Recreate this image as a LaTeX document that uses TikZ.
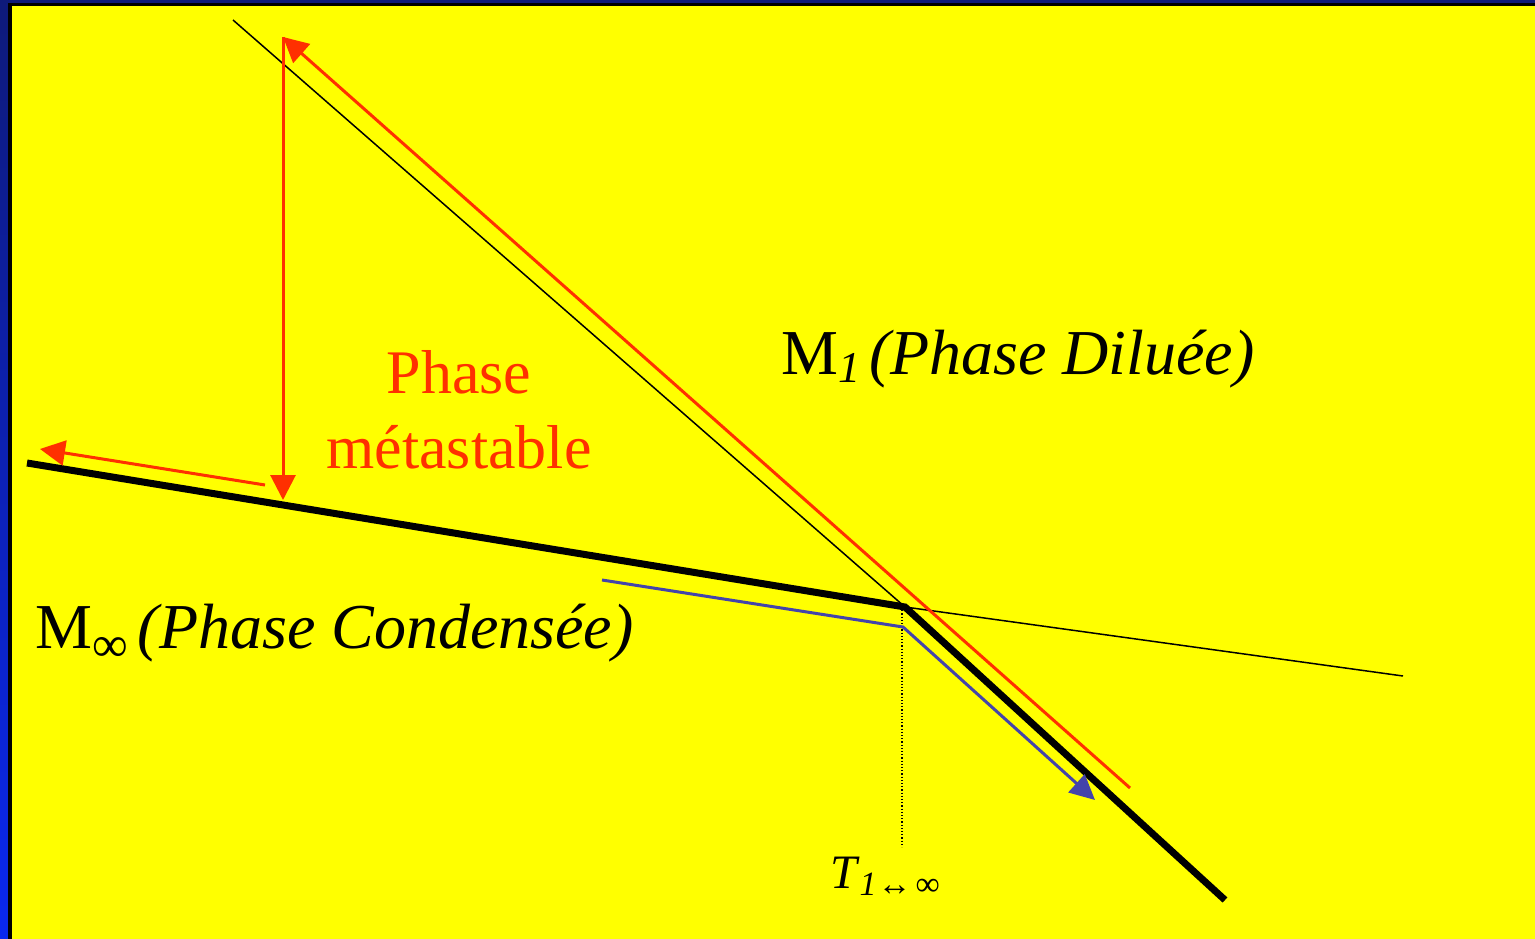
\documentclass[tikz,border=0pt]{standalone}
\usepackage{fontspec}
\setmainfont{Liberation Serif}
\usetikzlibrary{arrows.meta}
\definecolor{bgyellow}{RGB}{255,255,0}
\definecolor{navy}{RGB}{14,26,122}
\definecolor{brightblue}{RGB}{10,40,240}
\definecolor{redline}{RGB}{255,48,0}
\definecolor{blueline}{RGB}{68,68,170}
\tikzset{
  thinline/.style={black,line width=1.5pt},
  thickline/.style={black,line width=7pt,line join=miter},
  redarrow/.style={redline,line width=3pt,-{Triangle[length=25pt,width=25pt]}},
  bluearrow/.style={blueline,line width=3pt,-{Triangle[length=25pt,width=24pt]}},
  bigtext/.style={inner sep=0pt,anchor=base west,font=\fontsize{64}{76}\selectfont},
  redtext/.style={inner sep=0pt,align=center,text=redline,font=\fontsize{62}{75}\selectfont},
}
\begin{document}
\begin{tikzpicture}[x=1pt,y=-1pt]
\useasboundingbox (0,0) rectangle (1535,939);
\fill[bgyellow] (0,0) rectangle (1535,939);
\shade[top color=navy,bottom color=brightblue] (0,0) rectangle (8,939);
\fill[black] (8,4) rectangle (11.5,939);
\fill[navy] (0,0) rectangle (1535,3.5);
\fill[black] (8,3.5) rectangle (1535,6.5);

% coordinates
\coordinate (A) at (233,20);
\coordinate (K) at (905,607);
\coordinate (L) at (27,463);
\coordinate (E) at (1225,900);
\coordinate (R) at (1403,676);
\coordinate (R1) at (1130,788);
\coordinate (Rt) at (283,37);
\coordinate (Rb) at (283,500);
\coordinate (Ls) at (265,485);
\coordinate (Lt) at (40,449);
\coordinate (B0) at (602,580);
\coordinate (BK) at (903,627);
\coordinate (BT) at (1095,800);
\coordinate (D0) at (902,607);
\coordinate (D1) at (902,847);

% thin black lines
\draw[thinline] (A) -- (K);
\draw[thinline] (K) -- (R);
% thick black line
\draw[thickline] (L) -- (K) -- (E);
% dotted
\draw[black,line width=1.2pt,dotted] (D0) -- (D1);
% red arrows
\draw[redarrow] (R1) -- (Rt);
\draw[redarrow] (Rt) -- (Rb);
\draw[redarrow] (Ls) -- (Lt);
% blue arrow
\draw[bluearrow,line join=miter] (B0) -- (BK) -- (BT);

% texts
\node[bigtext] (m1) at (781,374) {M\raisebox{-0.3ex}{\fontsize{44}{46}\selectfont\textit{1}}\hspace{9pt}\textit{(Phase Diluée)}};
\node[bigtext] (minf) at (35,648) {M\raisebox{-0.45ex}{\fontsize{50}{52}\selectfont ∞}\hspace{10pt}\textit{(Phase Condensée)}};
\node[redtext] (meta) at (459,410) {Phase\\métastable};
\node[inner sep=0pt,anchor=base west,font=\fontsize{48}{50}\selectfont] (tlab) at (830,888) {\textit{T}\raisebox{-0.35ex}{\fontsize{34}{36}\selectfont\textit{1}\hspace{1pt}↔\hspace{4pt}∞}};
\end{tikzpicture}
\end{document}
